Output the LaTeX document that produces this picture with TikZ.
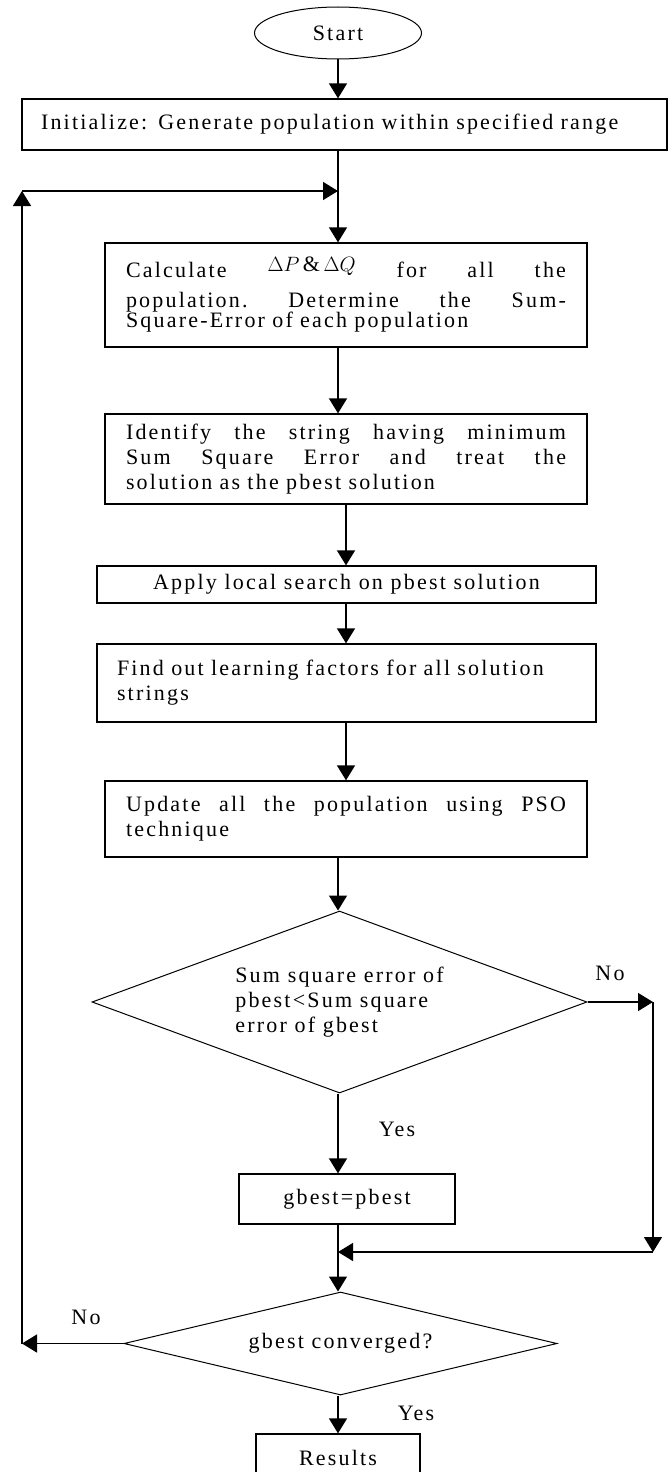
\documentclass[tikz,border=0pt]{standalone}
\usepackage{fontspec}
\setmainfont[LetterSpace=10]{Liberation Serif}
\usetikzlibrary{arrows.meta,shapes.geometric}
\newcommand{\jline}[1]{\leavevmode\hbox to 440pt{#1}}
\begin{document}
\begin{tikzpicture}[x=1pt,y=1pt,
  every node/.style={font=\fontsize{22}{25}\selectfont},
  box/.style={draw, line width=1.3pt, rectangle, inner sep=0pt},
  arr/.style={line width=1.4pt, -{Triangle[length=15pt,width=18pt]}},
  ln/.style={line width=1.4pt},
  dia/.style={draw, diamond, line width=1pt, inner sep=0pt, shape aspect=2.7},
  lbl/.style={inner sep=0pt}]
\useasboundingbox (0,0) rectangle (669,-1472);
\clip (0,0) rectangle (669,-1472);
\fill[white] (0,0) rectangle (669,-1472);

\coordinate (ax) at (338,0);
\coordinate (bx) at (346,0);

\node[ellipse, draw, line width=1pt, minimum width=167pt, minimum height=52pt, inner sep=0pt] (start) at (338,-33) {Start};
\node[box, minimum width=645pt, minimum height=51pt, text width=607pt, align=left] (init) at (344.5,-124.5) {Initialize: Generate population within specified range};
\node[box, minimum width=482pt, minimum height=104pt, text width=440pt, align=left] (calc) at (346,-295)
  {\jline{Calculate\hfill\raisebox{6pt}{$\Delta P\,\&\,\Delta Q$}\hfill for\hfill all\hfill the}\\[5pt]
   \jline{population.\hfill Determine\hfill the\hfill Sum-}\\[-5pt]
   Square-Error of each population};
\node[box, minimum width=482pt, minimum height=90pt, text width=440pt, align=left] (ident) at (346,-459)
  {\jline{Identify\hfill the\hfill string\hfill having\hfill minimum}\\
   \jline{Sum\hfill Square\hfill Error\hfill and\hfill treat\hfill the}\\
   solution as the pbest solution};
\node[box, minimum width=499pt, minimum height=37pt] (apply) at (346.5,-584.5) {Apply local search on pbest solution};
\node[box, minimum width=499pt, minimum height=78pt, text width=459pt, align=left] (find) at (346.5,-683)
  {Find out learning factors for all solution\\ strings};
\node[box, minimum width=482pt, minimum height=76pt, text width=440pt, align=left] (upd) at (346,-819)
  {\jline{Update\hfill all\hfill the\hfill population\hfill using\hfill PSO}\\ technique};
\node[dia, minimum width=495pt, minimum height=182pt, align=left] (d1) at (339.5,-1002)
  {Sum square error of\\ pbest<Sum square\\ error of gbest};
\node[box, minimum width=216pt, minimum height=50pt] (gb) at (347,-1199) {gbest=pbest};
\node[dia, minimum width=433pt, minimum height=103pt] (d2) at (340.5,-1343.5) {gbest converged?};
\node[box, minimum width=164pt, minimum height=48pt] (res) at (338,-1458) {Results};

\node[lbl] (no1) at (610,-973) {No};
\node[lbl] (yes1) at (397,-1129) {Yes};
\node[lbl] (no2) at (86,-1317) {No};
\node[lbl] (yes2) at (416,-1413) {Yes};

\coordinate (j1) at (338,-191);
\coordinate (lt) at (22,-191);
\coordinate (lb) at (22,-1343.5);
\coordinate (rt) at (653,-1002);
\coordinate (rb) at (653,-1252);
\coordinate (j2) at (338,-1252);

\draw[arr] (start) -- (start |- init.north);
\draw[arr] (ax |- init.south) -- (ax |- calc.north);
\draw[arr] (ax |- calc.south) -- (ax |- ident.north);
\draw[arr] (bx |- ident.south) -- (bx |- apply.north);
\draw[arr] (bx |- apply.south) -- (bx |- find.north);
\draw[arr] (bx |- find.south) -- (bx |- upd.north);
\draw[arr] (ax |- upd.south) -- (ax |- d1.north);
\draw[arr] (ax |- d1.south) -- (ax |- gb.north);
\draw[arr] (d1.east) -- (rt);
\draw[arr] (rt) -- (rb);
\draw[arr] (rb) -- (j2);
\draw[ln] (ax |- gb.south) -- (j2);
\draw[arr] (j2) -- (ax |- d2.north);
\draw[arr] (d2.west) -- (lb);
\draw[arr] (lb) -- (lt);
\draw[arr] (lt) -- (j1);
\draw[arr] (ax |- d2.south) -- (ax |- res.north);
\end{tikzpicture}
\end{document}
